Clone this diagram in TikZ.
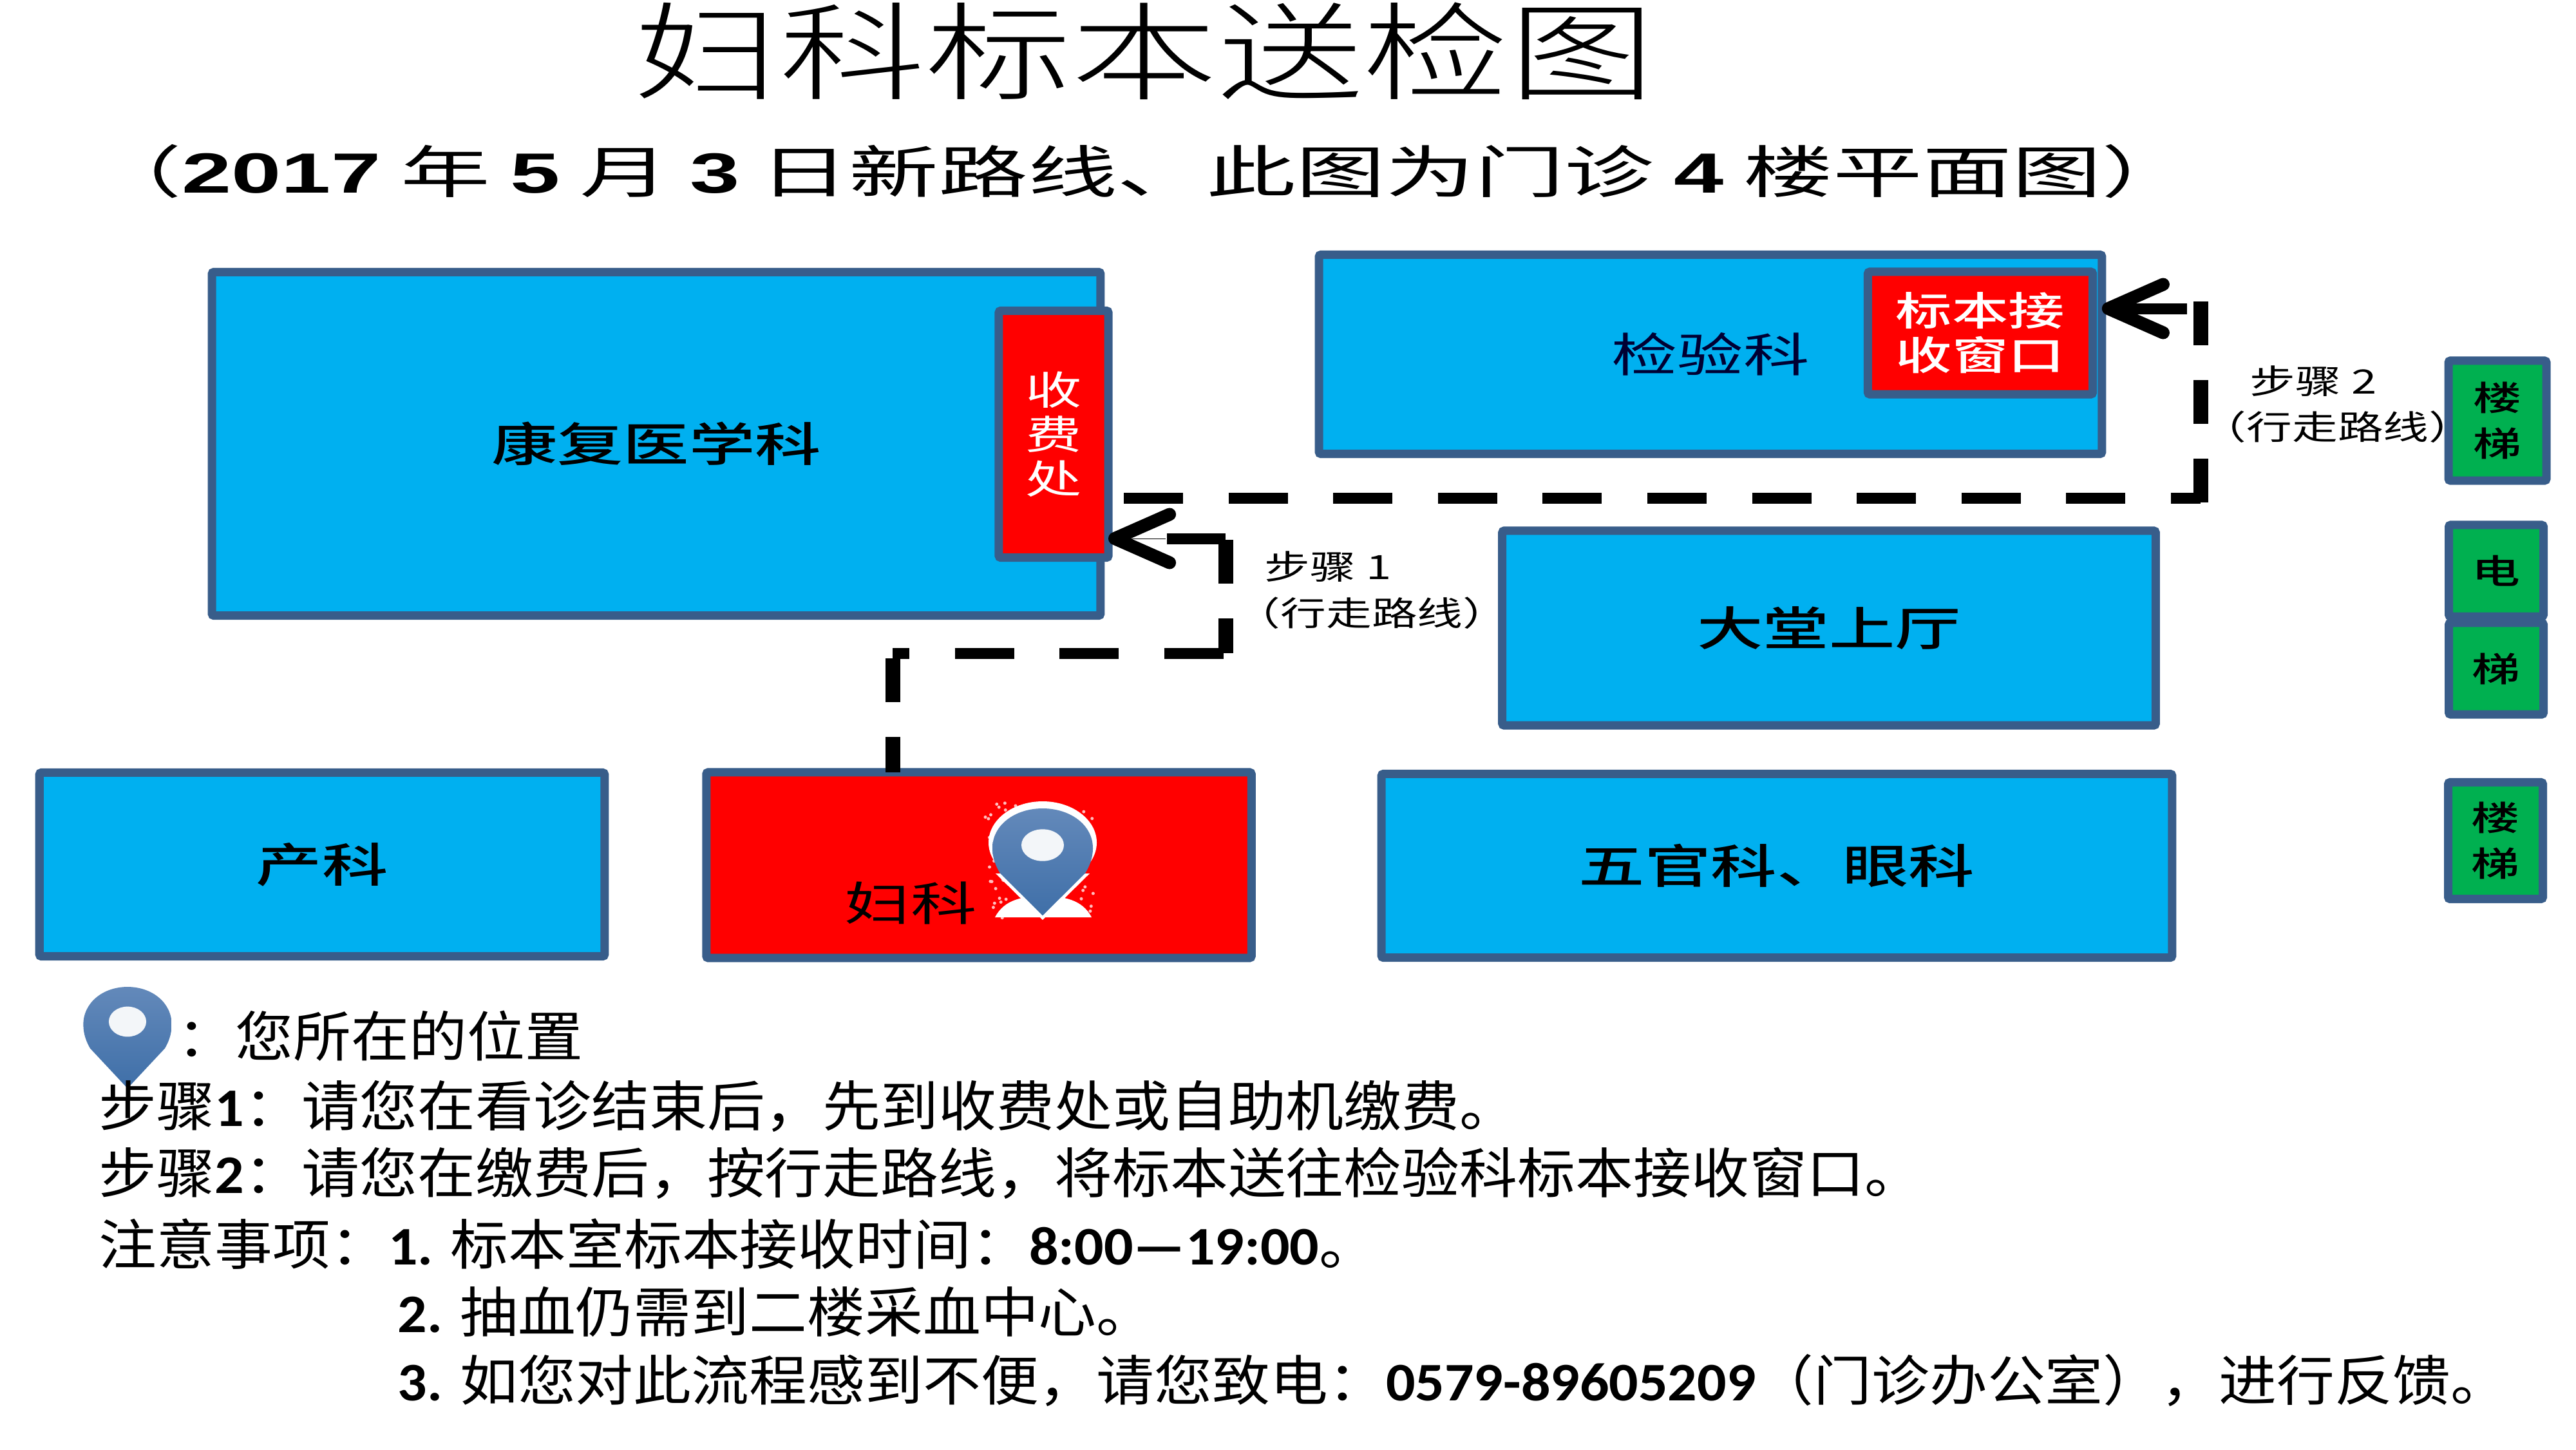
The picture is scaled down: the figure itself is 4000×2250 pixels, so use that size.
\documentclass[tikz,border=0pt]{standalone}
\usepackage{fontspec}
\usepackage{xcolor}
\usetikzlibrary{arrows.meta}
\setmainfont{Noto Sans CJK SC}
\newfontfamily\roomfont[FakeStretch=1.42]{Noto Sans CJK SC}
\newfontfamily\roommed[FakeStretch=1.42]{Noto Sans CJK SC Medium}
\newfontfamily\titlefont[FakeStretch=1.37]{Noto Sans CJK SC Light}
\newfontfamily\subfont[FakeStretch=1.58]{Noto Sans CJK SC}
\newfontfamily\sublat[FakeStretch=1.58]{Liberation Sans}
\newfontfamily\bodyfont[FakeStretch=1.065]{Noto Sans CJK SC}
\newfontfamily\bodylat[FakeStretch=1.065]{Carlito}
\newfontfamily\notefont[FakeStretch=1.36]{Noto Sans CJK SC}
\newcommand{\lat}[1]{{\bodylat\bfseries #1}}
\newcommand{\sla}[1]{{\sublat\bfseries #1}}

\definecolor{roomblue}{HTML}{00B0F0}
\definecolor{roomline}{HTML}{385D8A}
\definecolor{roomred}{HTML}{FF0000}
\definecolor{roomgreen}{HTML}{00B050}
\definecolor{pintop}{HTML}{6389BA}
\definecolor{pinbot}{HTML}{3F6FA8}

\tikzset{
  room/.style={draw=roomline,fill=roomblue,line width=0.13cm,rounded corners=0.03cm,outer sep=0,inner sep=0,align=center,
    font=\roommed\fontsize{20.5}{24}\selectfont},
  redroom/.style={room,fill=roomred,text=white,font=\roommed\fontsize{17.5}{19.6}\selectfont},
  liftbox/.style={room,fill=roomgreen,font=\roommed\fontsize{15}{20}\selectfont},
  steplabel/.style={inner sep=0,align=center,font=\notefont\fontsize{14.8}{22.5}\selectfont},
  textline/.style={anchor=west,inner sep=0,font=\bodyfont\fontsize{24}{28}\selectfont},
  routeh/.style={line width=0.17cm,dash pattern=on 0.92cm off 0.705cm},
  routev/.style={line width=0.23cm,dash pattern=on 0.68cm off 0.54cm},
  chevron/.style={-{Straight Barb[length=0.85cm,width=0.75cm,line width=0.2cm,round]}}
}

% location pin: centre of head, then scale
\newcommand{\locpin}[4]{
  \begin{scope}[shift={(#1,#2)},xscale=#3,yscale=#4]
    \shade[top color=pintop,bottom color=pinbot] (-78,5) .. controls (-78,-33) and (-43,-60) .. (0,-60)
      .. controls (43,-60) and (78,-33) .. (78,5) .. controls (78,22) and (72,36) .. (66,46) -- (0,115)
      -- (-66,46) .. controls (-72,36) and (-78,22) .. (-78,5) -- cycle;
    \fill[white!92!pintop] (0,0) ellipse (33 and 26);
  \end{scope}
}

\begin{document}
\begin{tikzpicture}[x=0.01cm,y=-0.01cm]
\useasboundingbox (0,0) rectangle (4000,2250);

% Title
\node[inner sep=0,font=\titlefont\fontsize{47}{50}\selectfont] (title) at (1777,79) {妇科标本送检图};
\node[inner sep=0,font=\subfont\fontsize{25}{30}\selectfont] (subtitle) at (1773,266)
  {（\sla{2017} 年 \sla{5} 月 \sla{3} 日新路线、此图为门诊 \sla{4} 楼平面图）};

% Upper rooms
\node[room,minimum width=13.79cm,minimum height=5.33cm] (kangfu) at (1019,689) {康复医学科};
\node[redroom,font=\roomfont\fontsize{17.5}{19.6}\selectfont,minimum width=1.70cm,minimum height=3.83cm] (shoufei) at (1636,674) {收\\费\\处};
\node[room,font=\roomfont\fontsize{20.5}{24}\selectfont,minimum width=12.15cm,minimum height=3.09cm,text=black!80!blue] (jianyan) at (2656,550) {检验科};
\node[redroom,minimum width=3.49cm,minimum height=1.90cm] (biaoben) at (3075,517) {标本接\\收窗口};
\node[room,minimum width=10.14cm,minimum height=3.02cm] (datang) at (2840,975) {大堂上厅};

% Lower rooms
\node[room,minimum width=8.77cm,minimum height=2.85cm] (chanke) at (500,1342) {产科};
\node[room,fill=roomred,minimum width=8.46cm,minimum height=2.88cm] (fuke) at (1520,1343) {};
\node[room,minimum width=12.27cm,minimum height=2.85cm] (wuguan) at (2759,1344) {五官科、眼科};
\node[inner sep=0,font=\roomfont\fontsize{20.5}{24}\selectfont] (fukename) at (1414,1402) {妇科};

% Stairs and lift
\node[liftbox,minimum width=1.52cm,minimum height=1.86cm] (louti) at (3878,653) {楼\\梯};
\node[liftbox,minimum width=1.47cm,minimum height=1.42cm] (dian) at (3876,886) {电};
\node[liftbox,minimum width=1.47cm,minimum height=1.42cm] (ti) at (3876,1038) {梯};
\node[liftbox,minimum width=1.47cm,minimum height=1.81cm] (loutib) at (3875,1305) {楼\\梯};

% Pin in the red room
\pgfmathsetseed{7}
\foreach \i in {1,...,120}
  \fill[white!75!red] ({1530+rnd*170},{1245+rnd*180}) circle (2.5);
\fill[white] (1545,1424) .. controls (1560,1395) and (1590,1392) .. (1619,1390)
  .. controls (1650,1392) and (1680,1395) .. (1695,1424) -- cycle;
\fill[white] (1619,1308) ellipse (84 and 64);
\fill[white] (1546,1356) -- (1619,1428) -- (1692,1356) -- cycle;
\locpin{1619}{1312}{1}{0.95}

% Route of step 1
\coordinate (ra) at (1386,1014);
\coordinate (rb) at (1903,1014);
\coordinate (rc) at (1903,836);
\coordinate (rd) at (1812,836);
\coordinate (re) at (1810,836);
\draw[routev,dash phase=0.13cm] (ra |- fuke.north) -- (ra);
\draw[routeh,dash phase=0.66cm] (ra) -- (rb);
\draw[routev,dash phase=0.14cm] (rb) -- (rc);
\draw[routeh] (rc) -- (rd);
\draw[chevron,line width=0.01cm] (re) -- (re -| shoufei.east);

% Route of step 2
\coordinate (sa) at (1745,773);
\coordinate (sb) at (3417,773);
\coordinate (sc) at (3417,780);
\coordinate (sd) at (3417,468);
\coordinate (se) at (3396,479);
\draw[routeh] (sa) -- (sb);
\draw[routev] (sc) -- (sd);
\draw[chevron,line width=0.17cm] (se) -- (se -| jianyan.east);

% Route labels
\node[steplabel] (stepa) at (2062,880) {步骤 1};
\node[steplabel] (stepb) at (2130,952) {（行走路线）};
\node[steplabel] (stepc) at (3592,592) {步骤 2};
\node[steplabel] (stepd) at (3630,663) {（行走路线）};

% Notes
\locpin{198}{1586}{0.88}{0.9}
\node[textline] (where) at (275,1608) {：您所在的位置};
\node[textline] (linea) at (153,1717) {步骤\lat{1}：请您在看诊结束后，先到收费处或自助机缴费。};
\node[textline] (lineb) at (153,1821) {步骤\lat{2}：请您在缴费后，按行走路线，将标本送往检验科标本接收窗口。};
\node[textline] (linec) at (153,1931) {注意事项：\lat{1.} 标本室标本接收时间：\lat{8:00—19:00}。};
\node[textline] (lined) at (617,2036) {\lat{2.} 抽血仍需到二楼采血中心。};
\node[textline] (linee) at (617,2143) {\lat{3.} 如您对此流程感到不便，请您致电：\lat{0579-89605209}（门诊办公室），进行反馈。};

\end{tikzpicture}
\end{document}
